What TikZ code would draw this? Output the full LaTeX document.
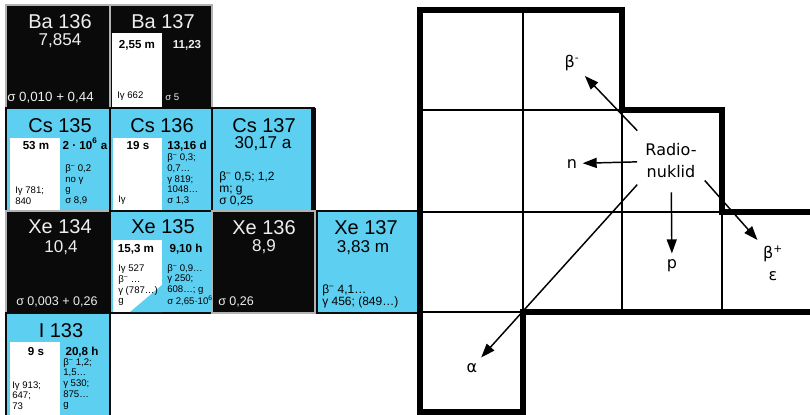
\documentclass[tikz,border=0pt]{standalone}
\usepackage{fontspec}
\setmainfont{Liberation Sans}
\newfontfamily\decayfont{DejaVu Sans}
\usepackage{xcolor}
\definecolor{nuccyan}{HTML}{5DCFF0}
\definecolor{nucblack}{HTML}{0A0A0A}
\definecolor{nucwhite}{HTML}{EEEEEE}
\usetikzlibrary{arrows.meta}
\newcommand\betam{β\textsuperscript{–}}
\tikzset{
    blackcell/.style={fill=nucblack, draw=gray!60, line width=0.8pt},
    cyancell/.style={fill=nuccyan, draw=nucblack, line width=0.8pt},
    isobox/.style={fill=white},
    nucname/.style={anchor=base, inner sep=0pt, font=\fontsize{15}{18}\selectfont},
    halflife/.style={anchor=base, inner sep=0pt, font=\fontsize{12.8}{15}\selectfont},
    boldlife/.style={anchor=base, inner sep=0pt, font=\bfseries\fontsize{8.7}{10}\selectfont},
    datatext/.style={anchor=south west, inner sep=0pt, align=left, font=\fontsize{7.2}{8}\selectfont},
    bigdata/.style={datatext, font=\fontsize{9}{9}\selectfont},
    sigmatext/.style={anchor=base west, inner sep=0pt, font=\fontsize{10}{12}\selectfont},
    thickgrid/.style={line width=3.8pt},
    thingrid/.style={line width=1.5pt},
    nuclid/.style={align=center, inner xsep=6pt, inner ysep=10.5pt, font=\decayfont\fontsize{12}{16.5}\selectfont},
    decaylabel/.style={inner sep=4pt, font=\decayfont\fontsize{12}{16.5}\selectfont},
    decay/.style={-{Triangle[length=10.5pt,width=7.5pt]}, line width=1.1pt}
}

\begin{document}
\begin{tikzpicture}[x=0.75pt, y=-0.75pt]
  \useasboundingbox (0,0) rectangle (810,414);

  % Nuclide chart cells
  \draw[blackcell] (6,5) rectangle (110,108);
  \draw[blackcell] (110,5) rectangle (212,108);
  \fill[isobox] (112,33) rectangle (162,107);
  \draw[cyancell] (6,108) rectangle (110,211);
  \fill[isobox] (10,138) rectangle (60,210);
  \draw[cyancell] (110,108) rectangle (212,211);
  \fill[isobox] (113,138) rectangle (162,210);
  \draw[cyancell] (212,108) rectangle (314,211);
  \fill[nucblack] (311,108) rectangle (316,212);
  \draw[blackcell] (6,211) rectangle (110,313);
  \draw[cyancell] (110,211) rectangle (212,313);
  \fill[isobox] (113,240) rectangle (162,312);
  \fill[nuccyan] (130,312) -- (162,312) -- (162,285) -- cycle;
  \draw[blackcell] (212,211) rectangle (315,313);
  \draw[cyancell] (317,211) rectangle (418,313);
  \draw[cyancell] (6,313) rectangle (110,416);
  \fill[isobox] (10,342) rectangle (60,415);

  % Ba row
  \node[nucname, text=nucwhite] (ba136) at (60,28) {Ba 136};
  \node[halflife, text=nucwhite] (ba136t) at (60,45) {7,854};
  \node[sigmatext, text=nucwhite] (ba136s) at (7,101) {σ 0,010 + 0,44};
  \node[nucname, text=nucwhite] (ba137) at (163,28) {Ba 137};
  \node[boldlife] (ba137m) at (137,48) {2,55 m};
  \node[boldlife, text=nucwhite] (ba137g) at (187,48) {11,23};
  \node[datatext] (ba137i) at (117,101) {Iγ 662};
  \node[datatext, text=nucwhite] (ba137s) at (165,101) {σ 5};

  % Cs row
  \node[nucname] (cs135) at (60,132) {Cs 135};
  \node[boldlife] (cs135m) at (36,149) {53 m};
  \node[boldlife] (cs135g) at (85,149) {2 · 10\textsuperscript{6} a};
  \node[datatext] (cs135i) at (15,205) {Iγ 781;\\840};
  \node[datatext] (cs135d) at (65,205) {\betam{} 0,2\\no γ\\g\\σ 8,9};
  \node[nucname] (cs136) at (162,132) {Cs 136};
  \node[boldlife] (cs136m) at (138,149) {19 s};
  \node[boldlife] (cs136g) at (187,149) {13,16 d};
  \node[datatext] (cs136i) at (118,205) {Iγ};
  \node[datatext] (cs136d) at (167,205) {\betam{} 0,3;\\0,7…\\γ 819;\\1048…\\σ 1,3};
  \node[nucname] (cs137) at (264,132) {Cs 137};
  \node[halflife] (cs137t) at (263,148) {30,17 a};
  \node[bigdata] (cs137d) at (219,206) {\betam{} 0,5; 1,2\\m; g\\σ 0,25};

  % Xe row
  \node[nucname, text=nucwhite] (xe134) at (60,233) {Xe 134};
  \node[halflife, text=nucwhite] (xe134t) at (61,252) {10,4};
  \node[sigmatext, text=nucwhite, font=\fontsize{9.4}{11}\selectfont] (xe134s) at (16,305) {σ 0,003 + 0,26};
  \node[nucname] (xe135) at (163,233) {Xe 135};
  \node[boldlife] (xe135m) at (136,252) {15,3 m};
  \node[boldlife] (xe135g) at (186,252) {9,10 h};
  \node[datatext] (xe135i) at (118,306) {Iγ 527\\\betam{} …\\γ (787…)\\g};
  \node[datatext] (xe135d) at (167,306) {\betam{} 0,9…\\γ 250;\\608…; g\\σ 2,65·10\textsuperscript{6}};
  \node[nucname, text=nucwhite] (xe136) at (264,234) {Xe 136};
  \node[halflife, text=nucwhite] (xe136t) at (264,251) {8,9};
  \node[sigmatext, text=nucwhite, font=\fontsize{9.4}{11}\selectfont] (xe136s) at (218,305) {σ 0,26};
  \node[nucname] (xe137) at (366,234) {Xe 137};
  \node[halflife] (xe137t) at (363,252) {3,83 m};
  \node[bigdata] (xe137d) at (322,308) {\betam{} 4,1…\\γ 456; (849…)};

  % I row
  \node[nucname] (i133) at (61,337) {I 133};
  \node[boldlife] (i133m) at (36,355) {9 s};
  \node[boldlife] (i133g) at (82,355) {20,8 h};
  \node[datatext] (i133i) at (12,410) {Iγ 913;\\647;\\73};
  \node[datatext] (i133d) at (63,410) {\betam{} 1,2;\\1,5…\\γ 530;\\875…\\g};

  % Schematic grid
  \draw[thingrid] (420,110) -- (622,110);
  \draw[thingrid] (420,212) -- (722,212);
  \draw[thingrid] (420,312) -- (523,312);
  \draw[thingrid] (523,10) -- (523,312);
  \draw[thingrid] (622,110) -- (622,312);
  \draw[thingrid] (722,212) -- (722,312);
  \draw[thickgrid] (830,212) -- (722,212) -- (722,110) -- (622,110) -- (622,10) -- (420,10)
    -- (420,412) -- (523,412) -- (523,312) -- (830,312);

  % Decay modes
  \node[nuclid] (rn) at (671,161) {Radio-\\nuklid};
  \node[decaylabel, anchor=base] (bminus) at (572,67) {β\textsuperscript{-}};
  \node[decaylabel, anchor=base] (neutron) at (572,168) {n};
  \node[decaylabel, anchor=base] (proton) at (672,268) {p};
  \node[decaylabel, align=center] (bplus) at (773,263) {β\textsuperscript{+}\\ε};
  \node[decaylabel, anchor=base] (alphal) at (472,372) {α};

  \draw[decay] (rn.138) -- (bminus);
  \draw[decay] (rn) -- (neutron);
  \draw[decay] (rn) -- (proton);
  \draw[decay] (rn.-30) -- (bplus.north west);
  \draw[decay] (rn.-145) -- (alphal);
\end{tikzpicture}
\end{document}
